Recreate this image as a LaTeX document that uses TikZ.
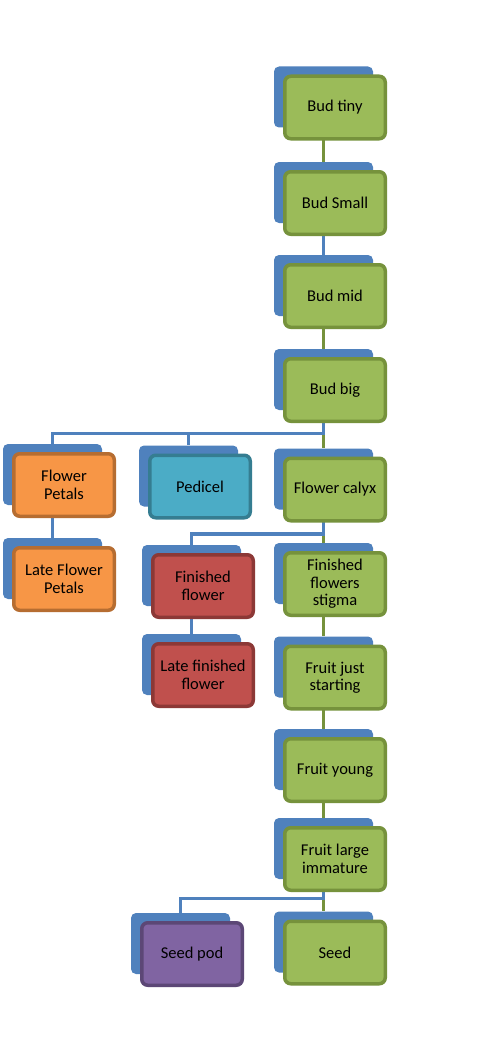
\documentclass[tikz,border=0pt]{standalone}
\usepackage{fontspec}
\setmainfont{Carlito}
\usetikzlibrary{fit,calc}
\pgfdeclarelayer{bg}
\pgfdeclarelayer{mid}
\pgfsetlayers{bg,mid,main}
\definecolor{gfill}{HTML}{9BBB59}
\definecolor{gline}{HTML}{76923C}
\definecolor{ofill}{HTML}{F79646}
\definecolor{oline}{HTML}{B66D31}
\definecolor{tfill}{HTML}{4BACC6}
\definecolor{tline}{HTML}{357D91}
\definecolor{rfill}{HTML}{C0504D}
\definecolor{rline}{HTML}{8C3836}
\definecolor{pfill}{HTML}{8064A2}
\definecolor{pline}{HTML}{5C4776}
\definecolor{bback}{HTML}{4F81BD}
\tikzset{
  card/.style={rectangle, rounded corners=6pt, line width=3.5pt, minimum width=100.5pt, minimum height=62.5pt, inner sep=0pt, align=center, font=\fontsize{16.5}{17.5}\selectfont, text=black},
  gcard/.style={card, fill=gfill, draw=gline},
  ocard/.style={card, fill=ofill, draw=oline},
  tcard/.style={card, fill=tfill, draw=tline},
  rcard/.style={card, fill=rfill, draw=rline},
  pcard/.style={card, fill=pfill, draw=pline},
  backbox/.style={rectangle, rounded corners=5pt, fill=bback, inner sep=0pt, draw=none},
  bl/.style={draw=bback, line width=3.5pt},
  gl/.style={draw=gline, line width=3.5pt},
}
\begin{document}
\begin{tikzpicture}[x=1pt,y=-1pt]
\useasboundingbox (0,0) rectangle (488,1054);
% front cards
\node[gcard] (budtiny) at (335,107.5) {Bud tiny};
\node[gcard] (budsmall) at (335,203) {Bud Small};
\node[gcard] (budmid) at (335,296) {Bud mid};
\node[gcard] (budbig) at (335,390) {Bud big};
\node[ocard] (petals) at (64,485) {Flower\\Petals};
\node[tcard] (pedicel) at (200,486.5) {Pedicel};
\node[gcard] (calyx) at (335,489.5) {Flower calyx};
\node[ocard] (latepetals) at (64,579) {Late Flower\\Petals};
\node[rcard] (finished) at (203,586) {Finished\\flower};
\node[gcard] (stigma) at (335,584) {Finished\\flowers\\stigma};
\node[rcard] (latefinished) at (203,675) {Late finished\\flower};
\node[gcard] (fruitjust) at (335,677.5) {Fruit just\\starting};
\node[gcard] (fruityoung) at (335,770) {Fruit young};
\node[gcard] (fruitlarge) at (335,859) {Fruit large\\immature};
\node[pcard] (seedpod) at (192,954) {Seed pod};
\node[gcard] (seed) at (335,952.5) {Seed};
% back shadow boxes
\begin{pgfonlayer}{mid}
\foreach \n in {budtiny,budsmall,budmid,budbig,petals,pedicel,calyx,latepetals,finished,stigma,latefinished,fruitjust,fruityoung,fruitlarge,seedpod,seed}{
  \node[backbox, fit={([shift={(-9,-8)}]\n.north west) ([shift={(-14,-13)}]\n.south east)}] (\n b) {};
}
\end{pgfonlayer}
% connectors
\begin{pgfonlayer}{bg}
\fill[white] (0,0) rectangle (488,1054);
\draw[gl] (budtinyb.south) -- (budsmallb.north);
\draw[bl] (budsmallb.south) -- (budmidb.north);
\draw[gl] (budmidb.south) -- (budbigb.north);
\coordinate (j1) at ($(calyxb.north)+(0,-15)$);
\draw[gl] (j1) -- (calyxb.north);
\draw[bl] (budbigb.south) -- (j1) -| (petalsb.north);
\draw[bl] (j1) -| (pedicelb.north);
\draw[bl] (petalsb.south) -- (latepetalsb.north);
\coordinate (j2) at ($(stigmab.north)+(0,-9)$);
\draw[gl] (j2) -- (stigmab.north);
\draw[bl] (calyxb.south) -- (j2) -| (finishedb.north);
\draw[bl] (finishedb.south) -- (latefinishedb.north);
\draw[gl] (stigmab.south) -- (fruitjustb.north);
\draw[gl] (fruitjustb.south) -- (fruityoungb.north);
\draw[gl] (fruityoungb.south) -- (fruitlargeb.north);
\coordinate (j3) at ($(seedb.north)+(0,-13)$);
\draw[gl] (j3) -- (seedb.north);
\draw[bl] (fruitlargeb.south) -- (j3) -| (seedpodb.north);
\end{pgfonlayer}
\end{tikzpicture}
\end{document}
